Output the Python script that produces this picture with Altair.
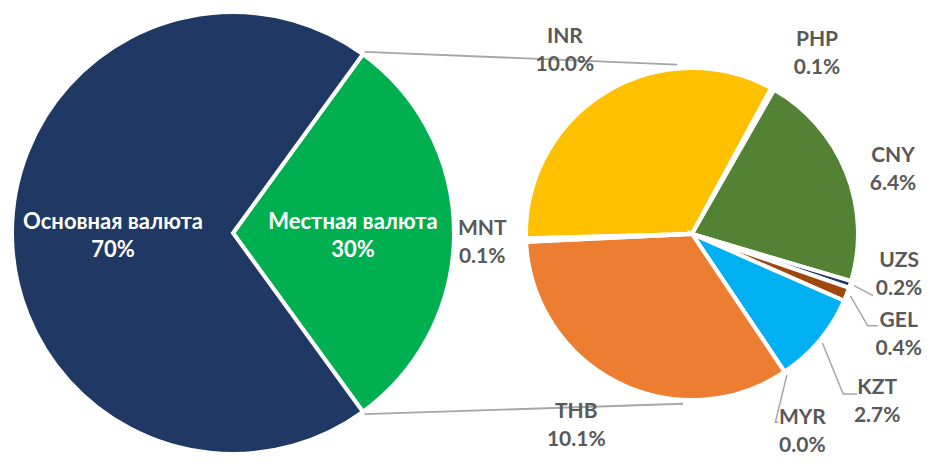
import math
import altair as alt
import pandas as pd

# ---------------- data ----------------
main_names = ["Местная валюта", "Основная валюта"]
main_values = [30, 70]
main_colors = ["#00B050", "#203864"]

sub_names = ["INR", "PHP", "CNY", "UZS", "GEL", "KZT", "MYR", "THB", "MNT"]
sub_values = [10.0, 0.1, 6.4, 0.2, 0.4, 2.7, 0.0, 10.1, 0.1]
sub_colors = ["#FFC000", "#A5A5A5", "#548235", "#203864", "#9E480E",
              "#00B0F0", "#4472C4", "#ED7D31", "#70AD47"]

# ---------------- layout (styling only) ----------------
W, H = 916, 448
L_CX, L_CY, L_R = 225, 225, 221
R_CX, R_CY, R_R = 684, 226, 166
L_START = 36.0      # degrees, start of first main slice
R_START = 268.5     # degrees, start of first sub slice
FONT = "Lato"
GREY = "#595959"
LH = 28

# label placement: (angle offset from slice mid in deg, radius px)
label_layout = {
    "INR": (-3.3, 222.7), "PHP": (5.7, 219), "CNY": (4.2, 211),
    "UZS": (-6.6, 211), "GEL": (4.7, 230), "KZT": (2.3, 250),
    "MYR": (4.8, 227), "THB": (4.4, 224), "MNT": (-0.4, 210),
}
# leader lines: bend and end offsets relative to label centre
leader_layout = {
    "UZS": ((-26, 21), (-26, 21)),
    "GEL": ((-31, -9), (-21, -9)),
    "KZT": ((-34, -8), (-20, -8)),
    "MYR": ((-27, -10), (-24, -10)),
}


def polar(cx, cy, deg, r):
    a = math.radians(deg)
    return cx + r * math.sin(a), cy - r * math.cos(a)


def mids(values, start):
    tot = sum(values)
    out, acc = [], 0.0
    for v in values:
        out.append(start + (acc + v / 2) / tot * 360)
        acc += v
    return out


# ---------------- tables ----------------
df_main = pd.DataFrame({"name": main_names, "value": main_values,
                        "idx": range(len(main_names))})
df_main["label"] = [f"{n}\n{v}%" for n, v in zip(main_names, main_values)]
df_main["ang"] = [math.radians(m) for m in mids(main_values, L_START)]

df_sub = pd.DataFrame({"name": sub_names, "value": sub_values,
                       "idx": range(len(sub_names))})
sub_mid = mids(sub_values, R_START)
df_sub["label"] = [f"{n}\n{v:.1f}%" for n, v in zip(sub_names, sub_values)]
df_sub["ang"] = [math.radians(m + label_layout[n][0]) for m, n in zip(sub_mid, sub_names)]
df_sub["rad"] = [label_layout[n][1] for n in sub_names]

# leader lines
rows = []
for n, m in zip(sub_names, sub_mid):
    if n not in leader_layout:
        continue
    off, rr = label_layout[n]
    lx, ly = polar(R_CX, R_CY, m + off, rr)
    p0 = polar(R_CX, R_CY, m, 170)
    (bx, by), (ex, ey) = leader_layout[n]
    pts = [p0, (lx + bx, ly + by), (lx + ex, ly + ey)]
    for k, (x, y) in enumerate(pts):
        rows.append({"id": n, "k": k, "x": x, "y": y})
df_lead = pd.DataFrame(rows)

# connector lines between pies
tot_main = sum(main_values)
g_start = L_START
g_end = L_START + main_values[0] / tot_main * 360
c_rows = []
for cid, (a_left, a_right) in enumerate([(g_start, 355.0), (g_end, 183.0)]):
    x0, y0 = polar(L_CX, L_CY, a_left, 224)
    x1, y1 = polar(R_CX, R_CY, a_right, 170)
    c_rows += [{"id": cid, "k": 0, "x": x0, "y": y0},
               {"id": cid, "k": 1, "x": x1, "y": y1}]
df_conn = pd.DataFrame(c_rows)

# ---------------- charts ----------------
two_pi = 2 * math.pi

left_arc = alt.Chart(df_main).mark_arc(
    outerRadius=L_R, stroke="white", strokeWidth=4
).encode(
    theta=alt.Theta("value:Q", stack=True,
                    scale=alt.Scale(range=[math.radians(L_START), math.radians(L_START) + two_pi])),
    color=alt.Color("name:N", scale=alt.Scale(domain=main_names, range=main_colors), legend=None),
    order=alt.Order("idx:Q"),
    x=alt.value(L_CX), y=alt.value(L_CY),
)

right_arc = alt.Chart(df_sub).mark_arc(
    outerRadius=R_R, stroke="white", strokeWidth=4
).encode(
    theta=alt.Theta("value:Q", stack=True,
                    scale=alt.Scale(range=[math.radians(R_START), math.radians(R_START) + two_pi])),
    color=alt.Color("name:N", scale=alt.Scale(domain=sub_names, range=sub_colors), legend=None),
    order=alt.Order("idx:Q"),
    x=alt.value(R_CX), y=alt.value(R_CY),
)

conn = alt.Chart(df_conn).mark_line(color="#A6A6A6", strokeWidth=1.8).encode(
    x=alt.X("x:Q", scale=None, axis=None),
    y=alt.Y("y:Q", scale=None, axis=None),
    detail="id:N", order="k:Q",
)

leads = alt.Chart(df_lead).mark_line(color="#A6A6A6", strokeWidth=1.5).encode(
    x=alt.X("x:Q", scale=None, axis=None),
    y=alt.Y("y:Q", scale=None, axis=None),
    detail="id:N", order="k:Q",
)

left_text = alt.Chart(df_main).mark_text(
    font=FONT, fontSize=22, fontWeight="bold", color="white",
    lineBreak="\n", lineHeight=LH, align="center", baseline="middle",
    radius=120, dy=3 - LH / 2,
).encode(
    theta=alt.Theta("ang:Q", scale=None),
    text="label:N",
    x=alt.value(L_CX), y=alt.value(L_CY),
)

right_text = alt.Chart(df_sub).mark_text(
    font=FONT, fontSize=21, fontWeight="bold", color=GREY,
    lineBreak="\n", lineHeight=LH, align="center", baseline="middle",
    dy=-LH / 2,
).encode(
    theta=alt.Theta("ang:Q", scale=None),
    radius=alt.Radius("rad:Q", scale=None),
    text="label:N",
    x=alt.value(R_CX), y=alt.value(R_CY),
)

chart = alt.layer(
    left_arc, right_arc, conn, leads, left_text, right_text
).resolve_scale(
    theta="independent", color="independent"
).properties(
    width=W, height=H, padding=0, autosize=alt.AutoSizeParams(type="none")
).configure_view(stroke=None)

chart.save("out.html", embed_options={"renderer": "svg", "actions": False})
